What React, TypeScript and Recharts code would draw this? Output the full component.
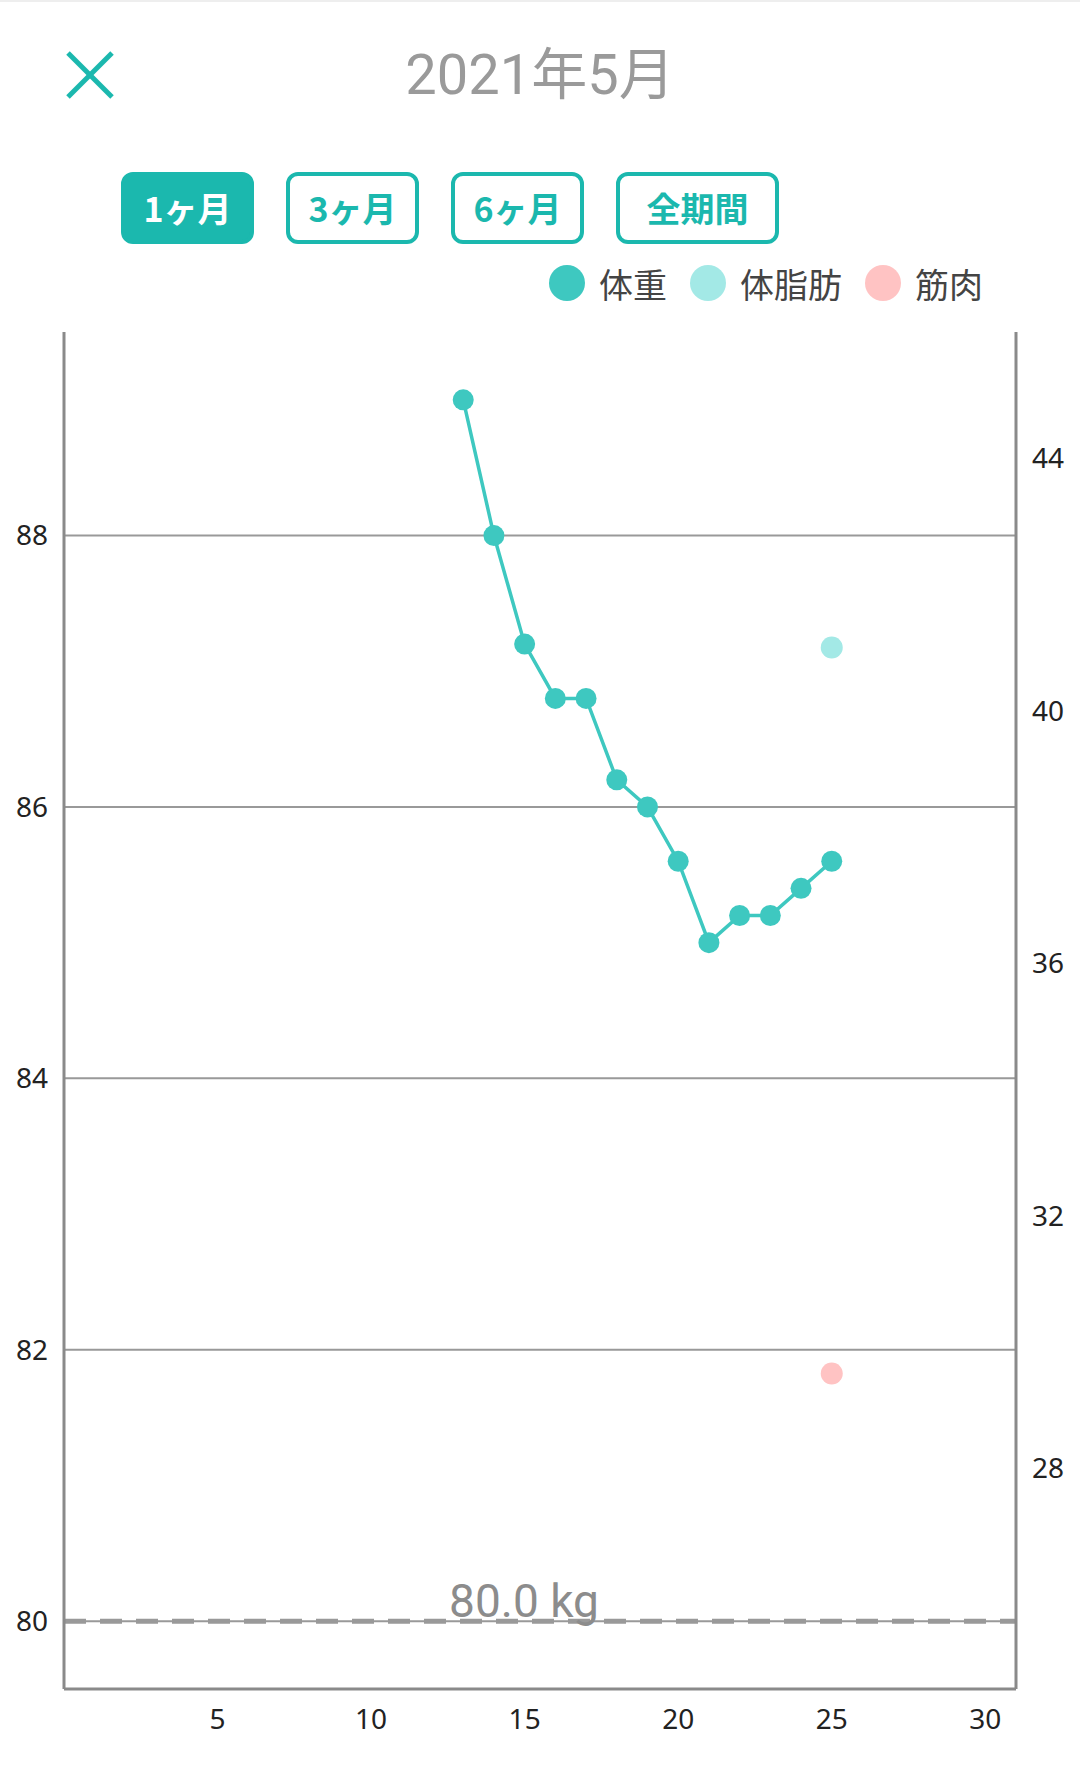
import React from "react";
import {
  LineChart,
  Line,
  XAxis,
  YAxis,
  ReferenceLine,
} from "recharts";

const title = "2021年5月";
const periods = ["1ヶ月", "3ヶ月", "6ヶ月", "全期間"];

const days = [13, 14, 15, 16, 17, 18, 19, 20, 21, 22, 23, 24, 25];
const weight = [89.0, 88.0, 87.2, 86.8, 86.8, 86.2, 86.0, 85.6, 85.0, 85.2, 85.2, 85.4, 85.6];
const fatDays = [25];
const fat = [41.0];
const muscleDays = [25];
const muscle = [29.5];

const xTicks = [5, 10, 15, 20, 25, 30];
const leftTicks = [80, 82, 84, 86, 88];
const rightTicks = [28, 32, 36, 40, 44];
const goal = 80;

const seriesNames = ["体重", "体脂肪", "筋肉"];
const seriesColors = ["#3ec8c0", "#a3e9e6", "#ffc3c3"];

const data = days.map((d, i) => {
  const row: any = { day: d, weight: weight[i] };
  const f = fatDays.indexOf(d);
  if (f >= 0) row.fat = fat[f];
  const m = muscleDays.indexOf(d);
  if (m >= 0) row.muscle = muscle[m];
  return row;
});

const teal = "#1bb8ae";
const tickStyle = { fontSize: 28, fill: "#222", fontFamily: "Noto Sans" };

const App = () => {
  return (
    <div
      style={{
        position: "absolute",
        left: 0,
        top: 0,
        width: 1080,
        height: 1776,
        background: "#fff",
        overflow: "hidden",
        fontFamily: "Roboto, 'Noto Sans CJK JP'",
      }}
    >
      <div style={{ position: "absolute", left: 0, top: 0, width: 1080, height: 2, background: "#eee" }} />

      <LineChart
        width={1080}
        height={1776}
        data={data}
        margin={{ top: 332, right: 4, left: 4, bottom: 27 }}
        style={{ position: "absolute", left: 0, top: 0 }}
      >
        <XAxis
          dataKey="day"
          type="number"
          domain={[0, 31]}
          ticks={xTicks}
          allowDataOverflow
          height={60}
          axisLine={{ stroke: "#8a8a8a", strokeWidth: 3 }}
          tickLine={false}
          tick={tickStyle}
          tickMargin={14}
        />
        <YAxis
          yAxisId="left"
          domain={[79.5, 89.5]}
          ticks={leftTicks}
          allowDataOverflow
          width={60}
          axisLine={{ stroke: "#8a8a8a", strokeWidth: 3 }}
          tickLine={false}
          tick={tickStyle}
          tickMargin={10}
        />
        <YAxis
          yAxisId="right"
          orientation="right"
          domain={[24.5, 46]}
          ticks={rightTicks}
          allowDataOverflow
          width={60}
          axisLine={{ stroke: "#8a8a8a", strokeWidth: 3 }}
          tickLine={false}
          tick={tickStyle}
          tickMargin={10}
        />
        {/* horizontal grid at the left-axis ticks */}
        {leftTicks.map((t) => (
          <ReferenceLine key={t} yAxisId="left" y={t} stroke="#999" strokeWidth={2} />
        ))}
        <ReferenceLine
          yAxisId="left"
          y={goal}
          stroke="#999"
          strokeWidth={5}
          strokeDasharray="22 14"
          label={{
            value: `${goal.toFixed(1)} kg`,
            position: "top",
            offset: 4,
            dx: -16,
            fill: "#8c8c8c",
            fontSize: 46,
            fontFamily: "Roboto",
          }}
        />
        <Line
          yAxisId="left"
          dataKey="weight"
          stroke={seriesColors[0]}
          strokeWidth={3.5}
          dot={{ r: 10.5, fill: seriesColors[0], stroke: "none" }}
          activeDot={false}
          isAnimationActive={false}
        />
        <Line
          yAxisId="right"
          dataKey="fat"
          stroke="none"
          dot={{ r: 11, fill: seriesColors[1], stroke: "none" }}
          activeDot={false}
          isAnimationActive={false}
        />
        <Line
          yAxisId="right"
          dataKey="muscle"
          stroke="none"
          dot={{ r: 11, fill: seriesColors[2], stroke: "none" }}
          activeDot={false}
          isAnimationActive={false}
        />
      </LineChart>

      {/* close icon */}
      <svg style={{ position: "absolute", left: 66, top: 51 }} width={48} height={48}>
        <line x1={2} y1={2} x2={46} y2={46} stroke={teal} strokeWidth={5} />
        <line x1={46} y1={2} x2={2} y2={46} stroke={teal} strokeWidth={5} />
      </svg>

      <div
        style={{
          position: "absolute",
          left: 0,
          top: 40,
          width: 1080,
          textAlign: "center",
          fontSize: 56,
          lineHeight: "70px",
          color: "#9a9a9a",
          fontFamily: "Roboto, 'Noto Sans CJK JP'",
        }}
      >
        {title}
      </div>

      {periods.map((p, i) => {
        const lefts = [121, 286, 451, 616];
        const widths = [133, 133, 133, 163];
        const active = i === 0;
        return (
          <div
            key={p}
            style={{
              position: "absolute",
              left: lefts[i],
              top: 172,
              width: widths[i],
              height: 72,
              boxSizing: "border-box",
              border: `4px solid ${teal}`,
              borderRadius: 12,
              background: active ? teal : "#fff",
              color: active ? "#fff" : teal,
              fontSize: 34,
              fontWeight: 700,
              lineHeight: "64px",
              textAlign: "center",
              fontFamily: "'Noto Sans CJK JP'",
            }}
          >
            {p}
          </div>
        );
      })}

      {seriesNames.map((n, i) => {
        const cx = [567, 708, 883];
        return (
          <div
            key={n}
            style={{
              position: "absolute",
              left: cx[i] - 18,
              top: 262,
              height: 42,
              display: "flex",
              alignItems: "center",
              fontSize: 34,
              color: "#444",
              fontFamily: "'Noto Sans CJK JP'",
            }}
          >
            <span
              style={{
                display: "inline-block",
                width: 36,
                height: 36,
                borderRadius: 18,
                background: seriesColors[i],
                marginRight: 14,
              }}
            />
            {n}
          </div>
        );
      })}
    </div>
  );
};

export default App;
